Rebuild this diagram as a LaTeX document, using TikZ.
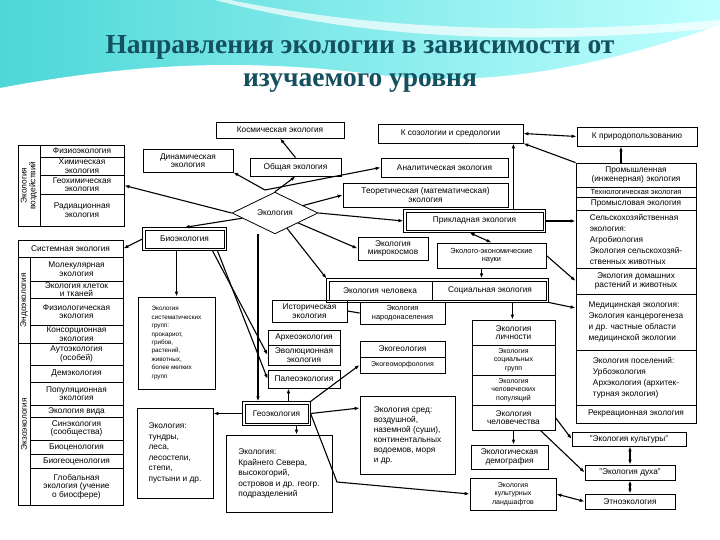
\documentclass[tikz,border=0pt]{standalone}
\usepackage{fontspec}
\setmainfont{Liberation Sans}
\newfontfamily\titlefont{Liberation Serif}
\usetikzlibrary{shapes.geometric,arrows.meta}
\definecolor{ttl}{RGB}{20,80,95}
\tikzset{
 bx/.style={draw,line width=0.8pt,inner sep=0pt,align=center,font=\fontsize{8.3}{8.6}\selectfont},
 bxl/.style={bx,align=left},
 ar/.style={line width=1.1pt,-{Latex[length=5pt,width=3.6pt]}},
 ar2/.style={line width=1.1pt,{Latex[length=5pt,width=3.6pt]}-{Latex[length=5pt,width=3.6pt]}},
 ln/.style={line width=1.1pt},
 frame/.style={line width=0.8pt},
 vlab/.style={rotate=90,inner sep=0pt,align=center,font=\fontsize{8.3}{8.8}\selectfont}
}
\newcommand{\bx}[7][]{\node[bx,#1,minimum width={#4-#2},minimum height={#5-#3}] (#7) at ({(#2+#4)/2},{(#3+#5)/2}) {#6};}
\newcommand{\dblframe}[1]{\draw[frame] ([xshift=-2.2pt,yshift=2.2pt]#1.north west) rectangle ([xshift=2.2pt,yshift=-2.2pt]#1.south east);}
\begin{document}
\begin{tikzpicture}[x=1pt,y=-1pt]
\useasboundingbox (0,0) rectangle (720,540);
% background
\shade[left color=cyan!55!teal!70!white,right color=cyan!25!white] (0,0) rectangle (720,110);
\fill[white] (0,110) -- (0,88) .. controls (150,60) and (260,60) .. (380,75) .. controls (500,90) and (620,60) .. (720,25) -- (720,110) -- cycle;
\fill[white,opacity=0.7] (230,0) .. controls (330,20) and (480,40) .. (720,20) -- (720,28) .. controls (480,50) and (330,30) .. (215,0) -- cycle;
\node[font=\titlefont\bfseries\fontsize{27.5}{33}\selectfont,text=ttl,align=center] (title) at (360,64) {Направления экологии в зависимости от\\изучаемого уровня};

% top boxes
\bx{216}{122}{344}{138}{Космическая экология}{kosm}
\bx{378}{124}{523}{143}{К созологии и средологии}{soz}
\bx{577}{127}{697}{146}{К природопользованию}{prir}
\bx{143}{149}{233}{172}{Динамическая\\экология}{din}
\bx{250}{158}{341}{176}{Общая экология}{obsh}
\bx{381}{158}{508}{177}{Аналитическая экология}{anal}
\bx{343}{183}{508}{207}{Теоретическая (математическая)\\экология}{teor}
\bx{406}{212}{543}{230}{Прикладная экология}{prikl}
\dblframe{prikl}
\node[diamond,draw,line width=0.8pt,minimum width=86pt,minimum height=38pt,inner sep=0pt,font=\fontsize{8.3}{8.6}\selectfont] (eco) at (275,213) {Экология};

% left group 1
\bx{18}{145}{124}{226}{}{vozd}
\draw[frame] (40,145) -- (40,226);
\node[vlab] (vozdl) at (29,185.5) {Экология\\воздействий};
\bx{40}{145}{124}{157}{Физиоэкология}{fiz}
\bx{40}{157}{124}{175}{Химическая\\экология}{him}
\bx{40}{175}{124}{194}{Геохимическая\\экология}{geoh}
\bx{40}{194}{124}{226}{Радиационная\\экология}{rad}

% left group 2
\bx{18}{240}{123}{257}{Системная экология}{sist}
\bx{18}{257}{123}{505}{}{lev}
\draw[frame] (30,257) -- (30,505) (18,343) -- (30,343);
\node[vlab] (endo) at (24,300) {Эндоэкология};
\node[vlab] (ekzo) at (24,424) {Экзоэкология};
\bx{30}{257}{123}{281}{Молекулярная\\экология}{mol}
\bx{30}{281}{123}{298}{Экология клеток\\и тканей}{klet}
\bx{30}{298}{123}{325}{Физиологическая\\экология}{fiziol}
\bx{30}{325}{123}{343}{Консорционная\\экология}{kons}
\bx{30}{343}{123}{365}{Аутоэкология\\(особей)}{auto}
\bx{30}{365}{123}{382}{Демэкология}{dem}
\bx{30}{382}{123}{405}{Популяционная\\экология}{pop}
\bx{30}{405}{123}{417}{Экология вида}{vid}
\bx{30}{417}{123}{440}{Синэкология\\(сообщества)}{sin}
\bx{30}{440}{123}{454}{Биоценология}{biocen}
\bx{30}{454}{123}{468}{Биогеоценология}{biogeo}
\bx{30}{468}{123}{505}{Глобальная\\экология (учение\\о биосфере)}{glob}

% middle
\bx{145}{230}{224}{248}{Биоэкология}{bio}
\dblframe{bio}
\bx[bxl,font=\fontsize{6.3}{8.4}\selectfont,inner xsep=3pt]{138}{297}{215}{389}{Экология\\систематических\\групп:\\прокариот,\\грибов,\\растений,\\животных,\\более мелких\\групп}{sistgr}
\bx{358}{237}{428}{260}{Экология\\микрокосмов}{mikro}
\bx[font=\fontsize{7.4}{8.4}\selectfont]{437}{243}{546}{268}{Эколого-экономические\\науки}{ekon}
\bx{329}{281}{546}{300}{}{chel}
\dblframe{chel}
\node[font=\fontsize{8.3}{8.6}\selectfont] (chel1) at (380,290.5) {Экология человека};
\node[font=\fontsize{8.3}{8.6}\selectfont] (chel2) at (490,290.5) {Социальная экология};
\draw[frame] (432,281) -- (432,300);
\bx{272}{300}{347}{322}{Историческая\\экология}{ist}
\bx[font=\fontsize{7.4}{8.4}\selectfont]{360}{302}{445}{324}{Экология\\народонаселения}{narod}
\bx{268}{330}{340}{345}{Археоэкология}{arh}
\bx{268}{345}{340}{365}{Эволюционная\\экология}{evol}
\bx{268}{370}{340}{388}{Палеоэкология}{paleo}
\bx{360}{341}{445}{357}{Экогеология}{ekogeol}
\bx[font=\fontsize{7}{7}\selectfont]{360}{357}{445}{373}{Экогеоморфология}{ekogeom}
\bx{245}{404}{308}{423}{Геоэкология}{geo}
\dblframe{geo}
\bx[bxl,inner xsep=4pt,font=\fontsize{8.3}{10.5}\selectfont]{137}{408}{213}{498}{Экология:\\тундры,\\леса,\\лесостепи,\\степи,\\пустыни и др.}{tundr}
\bx[bxl,inner xsep=4pt,font=\fontsize{8.3}{10.5}\selectfont]{226}{435}{332}{512}{Экология:\\Крайнего Севера,\\высокогорий,\\островов и др. геогр.\\подразделений}{sever}
\bx[bxl,inner xsep=4pt,font=\fontsize{8.3}{10}\selectfont]{360}{396}{455}{474}{Экология сред:\\воздушной,\\наземной (суши),\\континентальных\\водоемов, моря\\и др.}{sred}

% human column
\bx{472}{320}{555}{345}{Экология\\личности}{lich}
\bx[font=\fontsize{7}{8.3}\selectfont]{472}{345}{555}{375}{Экология\\социальных\\групп}{soc}
\bx[font=\fontsize{7}{8.3}\selectfont]{472}{375}{555}{405}{Экология\\человеческих\\популяций}{chpop}
\bx{472}{405}{555}{430}{Экология\\человечества}{chvo}
\bx{471}{445}{548}{469}{Экологическая\\демография}{demog}
\bx[font=\fontsize{7}{8.6}\selectfont]{470}{478}{556}{510}{Экология\\культурных\\ландшафтов}{land}
\bx{572}{432}{686}{446}{"Экология культуры"}{kult}
\bx{585}{465}{675}{480}{"Экология духа"}{duh}
\bx{585}{494}{675}{509}{Этноэкология}{etno}

% right column
\bx{576}{163}{696}{187}{Промышленная\\(инженерная) экология}{prom}
\bx[font=\fontsize{7.4}{7.4}\selectfont]{576}{187}{696}{197}{Технологическая экология}{tehn}
\bx{576}{197}{696}{210}{Промысловая экология}{promys}
\bx[bxl,inner xsep=2pt,font=\fontsize{8.3}{11}\selectfont]{576}{210}{696}{268}{Сельскохозяйственная\\экология:\\Агробиология\\Экология сельскохозяй-\\ственных животных}{selh}
\bx{576}{268}{696}{294}{Экология домашних\\растений и животных}{domash}
\bx[bxl,inner xsep=2pt,font=\fontsize{8.3}{11}\selectfont]{576}{294}{696}{350}{Медицинская экология:\\Экология канцерогенеза\\и др. частные области\\медицинской экологии}{med}
\bx[bxl,inner xsep=4pt,font=\fontsize{8.3}{11}\selectfont]{576}{350}{696}{405}{Экология поселений:\\Урбоэкология\\Архэкология (архитек-\\турная экология)}{posel}
\bx{576}{405}{696}{423}{Рекреационная экология}{rekr}

% connectors
\coordinate (br) at (265,190);
\draw[ar] (eco.north) -- (obsh.south);
\draw[ar] (br) -- (din.south east);
\draw[ar] (br) -- (anal.west);
\draw[ar] (obsh.north) -- (kosm.south);
\draw[ar] (eco) -- (teor.west);
\draw[ar] (eco.east) -- ([xshift=-2.2pt]prikl.west);
\draw[ar] (eco.west) -- (vozd.east);
\draw[ar] (eco) -- ([yshift=2.2pt]bio.north);
\draw[ar] (eco) -- (mikro.west);
\draw[ar] (eco) -- ([xshift=-2pt,yshift=2pt]chel.north west);
\draw[ar] (eco.south) ++(-17,0) coordinate (eb) -- ([yshift=2.2pt]eb |- geo.north);
\draw[ar] ([xshift=-2.2pt]bio.west) -- (sist.east);
\draw[ar] ([yshift=-2.2pt]bio.south -| sistgr.north) -- (sistgr.north);
\draw[ar] ([yshift=-2.2pt]bio.south east) ++(-12,0) -- (evol.west);
\draw[ar] ([yshift=-2.2pt]bio.south east) ++(-7,0) -- (paleo.west);
\draw[ar] ([yshift=2.2pt]geo.north) ++(12,0) coordinate (gp) -- (gp |- paleo.south);
\draw[ar] ([xshift=-2.2pt]geo.west) -- (tundr.east |- geo.west);
\draw[ar] ([yshift=-2.2pt]geo.south) ++(20,0) coordinate (gs) -- (gs |- sever.north);
\draw[ar] ([xshift=2pt,yshift=2pt]geo.north east) -- (ekogeom.west);
\draw[ar] ([xshift=2.2pt]geo.east) -- (sred.west |- 0,408);
\draw[ar] ([xshift=2.2pt]geo.east) -- (337,482) -- (land.west);
\draw[ln] (ist.east) -- (narod.west);
\draw[ar] ([yshift=2.2pt]prikl.north east) ++(-30,0) coordinate (pn) -- (pn |- soz.south);
\draw[ar2] (soz.east) -- (prir.west);
\draw[ar] (prom.north west) -- (soz.south east);
\draw[ar] (prom.north) ++(-15,0) coordinate (pr) -- (pr |- prir.south);
\draw[ar] ([xshift=2.2pt]prikl.east) -- (selh.west |- prikl.east);
\draw[ar2] ([yshift=-2.2pt]prikl.south) ++(-5,0) -- (ekon.north);
\draw[ar] (ekon.south) ++(-10,0) coordinate (es) -- ([yshift=2.2pt]es |- chel.north);
\draw[ar] (ekon.east) -- (domash.west);
\draw[ar] ([yshift=-2.2pt]chel.south east) ++(-34,0) coordinate (cs) -- (cs |- lich.north);
\draw[ar] ([xshift=2pt,yshift=-2pt]chel.south east) -- (med.west |- 0,308);
\draw[ar] (chvo.south) -- (demog.north -| chvo.south);
\draw[ar] (chvo.east) -- (kult.west);
\draw[ar] (chvo.south east) ++(-15,0) -- (duh.west);
\draw[ar2] (kult.south -| duh.north) -- (duh.north);
\draw[ar2] (duh.south) -- (etno.north);
\draw[ar2] (land.east) -- (etno.west);
\end{tikzpicture}
\end{document}
